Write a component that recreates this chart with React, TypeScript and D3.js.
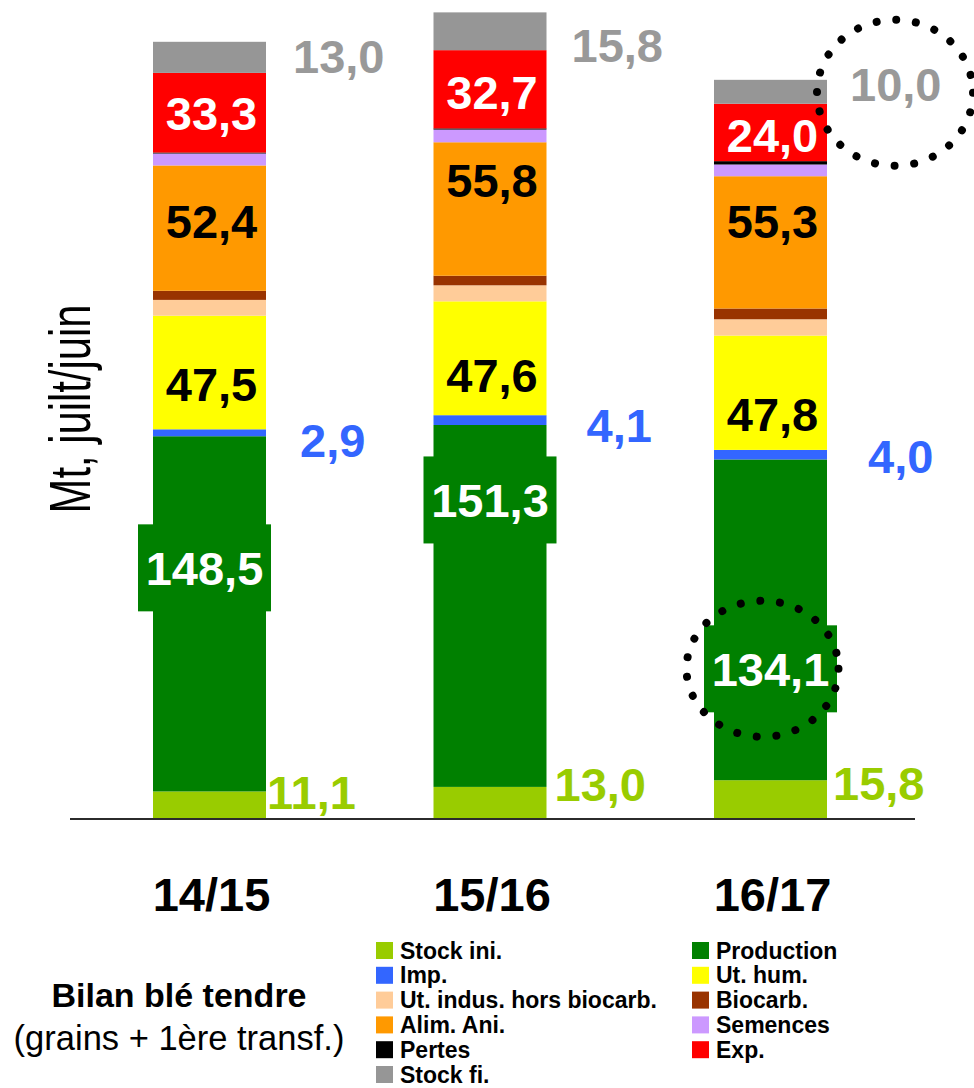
import React from 'react'
import * as d3 from 'd3'

// bilan blé tendre UE, Mt juillet/juin
const seasons = ['14/15', '15/16', '16/17']
const stockIni = [11.1, 13.0, 15.8]
const production = [148.5, 151.3, 134.1]
const imp = [2.9, 4.1, 4.0]
const utHum = [47.5, 47.6, 47.8]
const utIndus = [6.6, 6.7, 6.8]
const biocarb = [3.8, 4.0, 4.5]
const alimAni = [52.4, 55.8, 55.3]
const semences = [5.0, 5.3, 4.9]
const pertes = [0.4, 0.5, 1.4]
const exp = [33.3, 32.7, 24.0]
const stockFi = [13.0, 15.8, 10.0]

const seriesKeys = ['stockIni', 'production', 'imp', 'utHum', 'utIndus', 'biocarb', 'alimAni', 'semences', 'pertes', 'exp', 'stockFi']
const seriesNames = ['Stock ini.', 'Production', 'Imp.', 'Ut. hum.', 'Ut. indus. hors biocarb.', 'Biocarb.', 'Alim. Ani.', 'Semences', 'Pertes', 'Exp.', 'Stock fi.']
const seriesColors = ['#99CC00', '#008000', '#3366FF', '#FFFF00', '#FFCC99', '#993300', '#FF9900', '#CC99FF', '#000000', '#FF0000', '#969696']

const W = 974
const H = 1088
const FONT = '"Liberation Sans", Arial, Helvetica, sans-serif'
const barW = 113

const fmt = (v: number) => d3.format('.1f')(v).replace('.', ',')

// label placement (nudges from segment centre, px)
const insideLabels = [
  { key: 'production', color: '#fff', box: true, dx: [-5, 0, 0], dy: [-46, -106, 49] },
  { key: 'utHum', color: '#000', box: false, dx: [2, 2, 2], dy: [12, 17, 21] },
  { key: 'alimAni', color: '#000', box: false, dx: [2, 2, 2], dy: [-7, -29, -21] },
  { key: 'exp', color: '#fff', box: false, dx: [2, 2, 2], dy: [0, 3, 3] },
]
const sideLabels = [
  { key: 'stockIni', color: '#99CC00', dx: [1, 8, 6], dy: [-13, -18, -16] },
  { key: 'imp', color: '#3366FF', dx: [34, 40, 41], dy: [7, 5, 2] },
  { key: 'stockFi', color: '#999999', dx: [27, 25, 23], dy: [-1, 14, -8] },
]

export default function App() {
  const rows = seasons.map((s, i) => ({
    season: s,
    stockIni: stockIni[i],
    production: production[i],
    imp: imp[i],
    utHum: utHum[i],
    utIndus: utIndus[i],
    biocarb: biocarb[i],
    alimAni: alimAni[i],
    semences: semences[i],
    pertes: pertes[i],
    exp: exp[i],
    stockFi: stockFi[i],
  }))
  const stacked = d3.stack<any>().keys(seriesKeys)(rows)

  const x = d3.scalePoint<string>().domain(seasons).range([209.5, 770.5])
  const y = d3.scaleLinear().domain([0, 340]).range([818, 818 - 340 * 2.392])

  const segMid = (key: string, i: number) => {
    const s = stacked[seriesKeys.indexOf(key)][i]
    return (y(s[0]) + y(s[1])) / 2
  }
  const valueOf = (key: string, i: number) => (rows[i] as any)[key] as number
  const capHalf = 47 * 0.716 / 2

  // dotted highlight circles: production 16/17 and stock fi. 16/17
  const prodMid = segMid('production', 2) + insideLabels[0].dy[2]
  const fiMid = segMid('stockFi', 2) + sideLabels[2].dy[2]
  const fiX = (x('16/17') as number) + barW / 2 + sideLabels[2].dx[2] + 45

  return (
    <svg width={W} height={H} style={{ position: 'absolute', left: 0, top: 0, background: '#fff' }}>
      <g>
        {stacked.map((series, si) => (
          <g key={seriesKeys[si]} fill={seriesColors[si]}>
            {series.map((d, i) => (
              <rect
                key={i}
                x={(x(seasons[i]) as number) - barW / 2}
                y={y(d[1])}
                width={barW}
                height={Math.max(0, y(d[0]) - y(d[1]))}
              />
            ))}
          </g>
        ))}
      </g>

      <line x1={70} x2={915} y1={819} y2={819} stroke="#2b2b2b" strokeWidth={2} />

      {insideLabels.map(l =>
        seasons.map((s, i) => {
          const cx = (x(s) as number) + l.dx[i]
          const cy = segMid(l.key, i) + l.dy[i]
          return (
            <g key={l.key + i}>
              {l.box && <rect x={cx - 66.5} y={cy - 43.5} width={133} height={87} fill="#008000" />}
              <text x={cx} y={cy + capHalf} textAnchor="middle" fontFamily={FONT} fontWeight="bold" fontSize={47} fill={l.color}>
                {fmt(valueOf(l.key, i))}
              </text>
            </g>
          )
        })
      )}

      {sideLabels.map(l =>
        seasons.map((s, i) => (
          <text
            key={l.key + i}
            x={(x(s) as number) + barW / 2 + l.dx[i]}
            y={segMid(l.key, i) + l.dy[i] + capHalf}
            fontFamily={FONT}
            fontWeight="bold"
            fontSize={47}
            fill={l.color}
          >
            {fmt(valueOf(l.key, i))}
          </text>
        ))
      )}

      <ellipse cx={(x('16/17') as number) - 8} cy={prodMid} rx={76} ry={68} fill="none" stroke="#000" strokeWidth={8} strokeDasharray="0.01 19.8" strokeLinecap="round" />
      <ellipse cx={fiX} cy={fiMid + 9} rx={78} ry={73} fill="none" stroke="#000" strokeWidth={8} strokeDasharray="0.01 19.8" strokeLinecap="round" />

      {seasons.map(s => (
        <text key={s} x={(x(s) as number) + 2} y={911} textAnchor="middle" fontFamily={FONT} fontWeight="bold" fontSize={47} fill="#000">
          {s}
        </text>
      ))}

      <text transform="translate(90,409) rotate(-90) scale(0.72,1)" textAnchor="middle" fontFamily={FONT} fontSize={58} fill="#000">
        Mt, juilt/juin
      </text>

      <text x={179} y={1007} textAnchor="middle" fontFamily={FONT} fontWeight="bold" fontSize={34} fill="#000">
        Bilan blé tendre
      </text>
      <text x={179} y={1050} textAnchor="middle" fontFamily={FONT} fontSize={34.5} fill="#000">
        (grains + 1ère transf.)
      </text>

      <g fontFamily={FONT} fontWeight="bold" fontSize={23}>
        {seriesNames.map((name, i) => {
          const lx = i % 2 === 0 ? 376 : 692
          const ly = 942 + Math.floor(i / 2) * 24.8
          return (
            <g key={name}>
              <rect x={lx} y={ly} width={17} height={17} fill={seriesColors[i]} />
              <text x={lx + 24} y={ly + 16.5} fill="#000">{name}</text>
            </g>
          )
        })}
      </g>
    </svg>
  )
}
